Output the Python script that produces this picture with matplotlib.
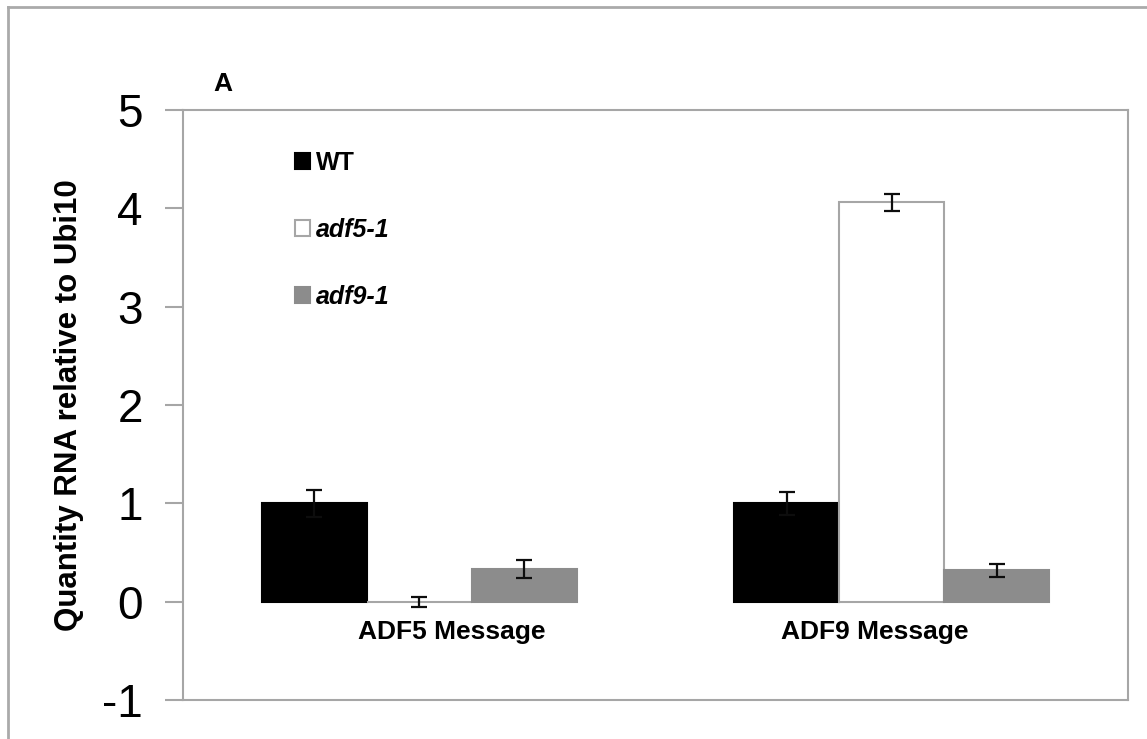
import matplotlib
matplotlib.use("Agg")
import matplotlib.pyplot as plt
import numpy as np
from matplotlib.lines import Line2D
from matplotlib.transforms import offset_copy

plt.rcParams['font.family'] = ['Liberation Sans', 'DejaVu Sans']

categories = ["ADF5 Message", "ADF9 Message"]
series = ["WT", "adf5-1", "adf9-1"]
wt = [1.00, 1.00]
adf5 = [0.00, 4.06]
adf9 = [0.33, 0.32]
wt_err = [0.14, 0.12]
adf5_err = [0.05, 0.09]
adf9_err = [0.09, 0.065]
yticks = [-1, 0, 1, 2, 3, 4, 5]

fig = plt.figure(figsize=(11.47, 7.39), dpi=100)
ax = fig.add_axes([183/1147, 1-700/739, (1128-183)/1147, (700-110)/739])

x = np.arange(len(categories))
w = 2/9
face = ["black", "white", "#8c8c8c"]
edge = ["black", "#a6a6a6", "#8c8c8c"]
vals = [wt, adf5, adf9]
errs = [wt_err, adf5_err, adf9_err]
for i, (v, e) in enumerate(zip(vals, errs)):
    ax.bar(x + (i - 1) * w, v, width=w, color=face[i], edgecolor=edge[i],
           linewidth=1.5, label=series[i], zorder=2)
    ax.errorbar(x + (i - 1) * w, v, yerr=e, fmt='none', ecolor='#0d0d0d',
                elinewidth=1.6, capsize=5.5, capthick=1.6, zorder=3)

ax.set_xlim(-0.5, 1.5)
ax.set_ylim(-1, 5)
ax.set_yticks(yticks)
ax.set_yticklabels([str(t) for t in yticks], fontsize=33)
ax.tick_params(axis='y', length=13, width=1.5, color='#a6a6a6', pad=16)
ax.set_xticks([])
for s in ax.spines.values():
    s.set_color('#a6a6a6')
    s.set_linewidth(1.5)

# category labels (Excel placed them slightly off-centre)
label_shift_px = [33, -17]
for xi, c, dx in zip(x, categories, label_shift_px):
    tr = offset_copy(ax.transData, fig=fig, x=dx, y=0, units='dots')
    ax.text(xi, -0.19, c, ha='center', va='top', fontsize=19,
            fontweight='bold', transform=tr)

ax.set_ylabel("Quantity RNA relative to Ubi10", fontsize=22.5, fontweight='bold')
ax.yaxis.set_label_coords(-0.105, 0.5)

ax.text(213/1147, 1-84/739, "A", transform=fig.transFigure, fontsize=19,
        fontweight='bold', ha='left', va='center')

leg = ax.legend(loc='upper left', bbox_to_anchor=((295-183)/945, (700-151)/590),
                frameon=False, handlelength=0.6, handleheight=0.6,
                handletextpad=0.22, labelspacing=1.72, borderpad=0, borderaxespad=0,
                prop={'weight': 'bold', 'size': 18})
for i, t in enumerate(leg.get_texts()):
    if i > 0:
        t.set_style('italic')

# outer frame (top and left visible)
fig.add_artist(Line2D([8/1147, 1], [1-7/739, 1-7/739], transform=fig.transFigure,
                      color='#aaaaaa', linewidth=2))
fig.add_artist(Line2D([8/1147, 8/1147], [0, 1-7/739], transform=fig.transFigure,
                      color='#aaaaaa', linewidth=2))

fig.savefig("out.png", dpi=100)
